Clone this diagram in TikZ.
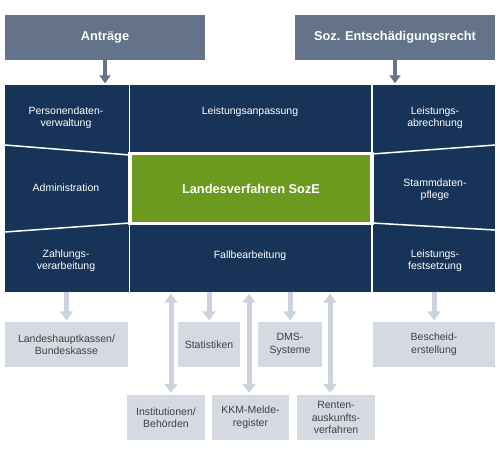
\documentclass[tikz,border=0pt]{standalone}
\usepackage{fontspec}
\setmainfont{Liberation Sans}
\usetikzlibrary{arrows.meta}
\definecolor{navy}{HTML}{173358}
\definecolor{slate}{HTML}{647389}
\definecolor{leaf}{HTML}{6B9A1F}
\definecolor{pale}{HTML}{D5DAE2}
\definecolor{arrowgray}{HTML}{CDD3DC}
\begin{document}
\begin{tikzpicture}[x=1pt,y=-1pt,
    txt/.style={text=white,font=\fontsize{10.5}{12.5}\selectfont,align=center},
    head/.style={fill=slate,text=white,font=\fontsize{12.8}{15}\selectfont\bfseries,
      minimum width=200pt,minimum height=45pt,inner sep=0pt},
    ext/.style={fill=pale,text=black!75,font=\fontsize{10.5}{12.5}\selectfont,
      align=center,inner sep=0pt,minimum height=45pt},
    sep/.style={white,line width=1.5pt},
    flow/.style={arrowgray,line width=5pt,-{Triangle[width=13pt,length=9pt]}},
    flows/.style={arrowgray,line width=5pt,
      {Triangle[width=13pt,length=9pt]}-{Triangle[width=13pt,length=9pt]}},
    feed/.style={slate,line width=4pt,-{Triangle[width=11pt,length=8pt]}}]
      \useasboundingbox (0,0) rectangle (500,450);
      % inputs
      \node[head] (antr) at (105,37.5) {Anträge};
      \node[head] (soz) at (395,37.5) {Soz. Entschädigungsrecht};
      % main block
      \node[fill=navy,minimum width=490pt,minimum height=207pt,inner sep=0pt] (block) at (250,188.5) {};
      \draw[sep] (129.5,85) -- (129.5,292);
      \draw[sep] (372,85) -- (372,292);
      \draw[sep] (5,145) -- (130,155);
      \draw[sep] (5,232) -- (130,223);
      \draw[sep] (372,154) -- (495,145);
      \draw[sep] (372,223) -- (495,230);
      \node[fill=leaf,draw=white,line width=3.5pt,minimum width=242pt,minimum height=70pt,inner sep=0pt,
        text=white,font=\fontsize{12.8}{15}\selectfont\bfseries] (core) at (251,188.5) {Landesverfahren SozE};
      \node[txt] (pers) at (66,118) {Personendaten-\\verwaltung};
      \node[txt] (anp) at (250,112) {Leistungsanpassung};
      \node[txt] (abr) at (435,118) {Leistungs-\\abrechnung};
      \node[txt] (adm) at (66,188) {Administration};
      \node[txt] (stamm) at (435,190) {Stammdaten-\\pflege};
      \node[txt] (zahl) at (66,261) {Zahlungs-\\verarbeitung};
      \node[txt] (fall) at (250,256) {Fallbearbeitung};
      \node[txt] (fest) at (435,261) {Leistungs-\\festsetzung};
      % outer systems
      \node[ext,minimum width=123pt] (lhk) at (66.5,344.5) {Landeshauptkassen/\\Bundeskasse};
      \node[ext,minimum width=62pt] (stat) at (209,344.5) {Statistiken};
      \node[ext,minimum width=64pt] (dms) at (290,344.5) {DMS-\\Systeme};
      \node[ext,minimum width=122pt] (besch) at (434,344.5) {Bescheid-\\erstellung};
      \node[ext,minimum width=78pt] (inst) at (166,417.5) {Institutionen/\\Behörden};
      \node[ext,minimum width=77pt] (kkm) at (250.5,417.5) {KKM-Melde-\\register};
      \node[ext,minimum width=78pt] (rent) at (336,417.5) {Renten-\\auskunfts-\\verfahren};
      \begin{scope}[shorten >=1.5pt]
        \draw[feed] (antr.south) to (block.north -| antr);
        \draw[feed] (soz.south) to (block.north -| soz);
        \draw[flow] (block.south -| lhk) to (lhk.north);
        \draw[flow] (block.south -| stat) to (stat.north);
        \draw[flow] (block.south -| dms) to (dms.north);
        \draw[flow] (block.south -| besch) to (besch.north);
      \end{scope}
      \begin{scope}[shorten <=1.5pt,shorten >=2pt]
        \draw[flows] ([xshift=5pt]block.south -| inst) to ([xshift=5pt]inst.north);
        \draw[flows] ([xshift=-1.5pt]block.south -| kkm) to ([xshift=-1.5pt]kkm.north);
        \draw[flows] ([xshift=-6pt]block.south -| rent) to ([xshift=-6pt]rent.north);
      \end{scope}
    \end{tikzpicture}
\end{document}
